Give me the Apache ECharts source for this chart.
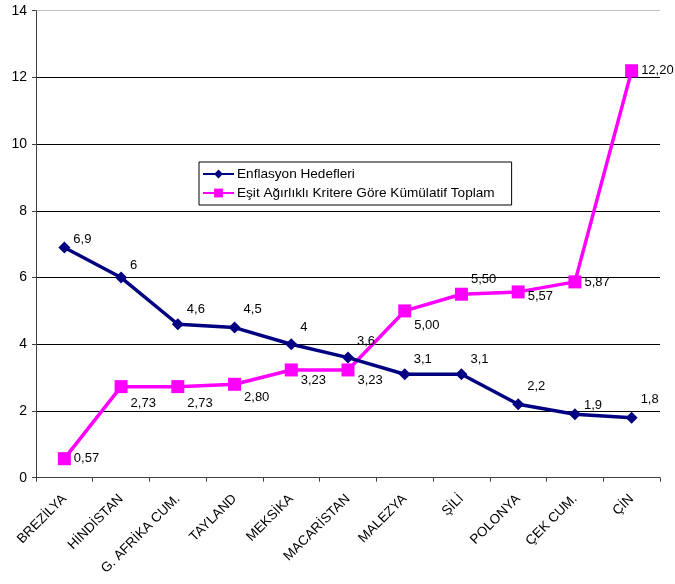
<!DOCTYPE html>
<html>
<head>
<meta charset="utf-8">
<script src="https://cdn.jsdelivr.net/npm/echarts@6/dist/echarts.min.js"></script>
<style>
  html, body { margin: 0; padding: 0; background: #fff; }
  #chart { width: 675px; height: 584px; }
</style>
</head>
<body>
<div id="chart"></div>
<script>
// Countries on the category axis
var countries = ['BREZİLYA', 'HİNDİSTAN', 'G. AFRİKA CUM.', 'TAYLAND', 'MEKSİKA', 'MACARİSTAN', 'MALEZYA', 'ŞİLİ', 'POLONYA', 'ÇEK CUM.', 'ÇİN'];

// Inflation targets
var enflasyonHedefleri = [6.9, 6, 4.6, 4.5, 4, 3.6, 3.1, 3.1, 2.2, 1.9, 1.8];

// Equal-weighted cumulative total
var kumulatifToplam = [0.57, 2.73, 2.73, 2.80, 3.23, 3.23, 5.00, 5.50, 5.57, 5.87, 12.20];

// Value axis ticks
var yTicks = [0, 2, 4, 6, 8, 10, 12, 14];

var seriesNames = ['Enflasyon Hedefleri', 'Eşit Ağırlıklı Kritere Göre Kümülatif Toplam'];

// Vertical nudges for the value labels (px)
var navyLabelDy = [-8, -12, -15, -18, -17, -16, -15, -15, -18, -9, -18];
var pinkLabelDy = [0, 17, 17, 13, 10, 10, 15, -15, 5, 1, 0];

var fontFamily = 'Arial, "Liberation Sans", sans-serif';

function trComma(v, digits) {
  return (digits === null ? String(v) : v.toFixed(digits)).replace('.', ',');
}

var chart = echarts.init(document.getElementById('chart'), null, { renderer: 'canvas' });

var gridColors = yTicks.map(function (t, i) { return i === yTicks.length - 1 ? '#c0c0c0' : '#000'; });

chart.setOption({
  animation: false,
  backgroundColor: '#fff',
  textStyle: { fontFamily: fontFamily },
  grid: { left: 36, right: 15, top: 10.7, bottom: 106.3, containLabel: false },
  legend: {
    orient: 'vertical',
    left: 199,
    top: 162,
    padding: [5, 17, 5, 3],
    itemGap: 5,
    itemWidth: 31,
    itemHeight: 11,
    backgroundColor: '#fff',
    borderColor: '#000',
    borderWidth: 1,
    borderRadius: 0,
    textStyle: { fontSize: 13.6, color: '#000', fontFamily: fontFamily, padding: [0, 0, 0, -2] },
    data: seriesNames
  },
  xAxis: {
    type: 'category',
    data: countries,
    boundaryGap: true,
    axisLine: { lineStyle: { color: '#404040', width: 1 } },
    axisTick: { show: true, length: 4, lineStyle: { color: '#404040' } },
    axisLabel: { rotate: 45, margin: 19, fontSize: 13.5, color: '#000', interval: 0, fontFamily: fontFamily },
    splitLine: { show: false }
  },
  yAxis: {
    type: 'value',
    min: yTicks[0],
    max: yTicks[yTicks.length - 1],
    interval: 2,
    axisLine: { show: true, lineStyle: { color: '#404040', width: 1 } },
    axisTick: { show: true, length: 4, lineStyle: { color: '#404040' } },
    axisLabel: { fontSize: 14, color: '#000', margin: 9, fontFamily: fontFamily },
    splitLine: { show: true, lineStyle: { color: gridColors, width: 1 } }
  },
  series: [
    {
      name: seriesNames[0],
      type: 'line',
      data: enflasyonHedefleri.map(function (v, i) {
        return { value: v, label: { offset: [-2, navyLabelDy[i]] } };
      }),
      z: 3,
      symbol: 'diamond',
      symbolSize: 12,
      itemStyle: { color: '#000080' },
      lineStyle: { color: '#000080', width: 3.5 },
      label: {
        show: true,
        position: 'right',
        fontSize: 13,
        color: '#000',
        fontFamily: fontFamily,
        formatter: function (p) { return trComma(p.value, null); }
      }
    },
    {
      name: seriesNames[1],
      type: 'line',
      data: kumulatifToplam.map(function (v, i) {
        return { value: v, label: { offset: [-2, pinkLabelDy[i]] } };
      }),
      z: 2,
      symbol: 'rect',
      symbolSize: 13,
      itemStyle: { color: '#ff00ff' },
      lineStyle: { color: '#ff00ff', width: 3.5 },
      label: {
        show: true,
        position: 'right',
        fontSize: 13,
        color: '#000',
        fontFamily: fontFamily,
        formatter: function (p) { return trComma(p.value, 2); }
      }
    }
  ]
});
</script>
</body>
</html>
